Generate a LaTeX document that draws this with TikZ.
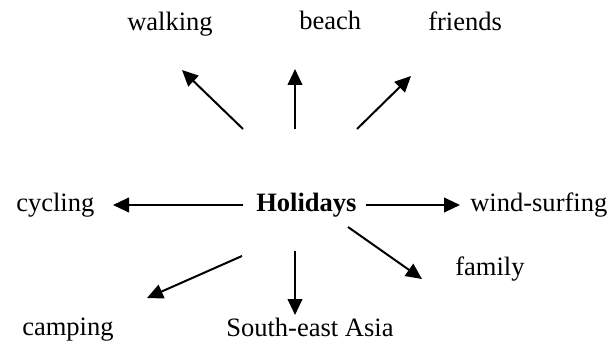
\documentclass[tikz,border=0pt]{standalone}
\usepackage{fontspec}
\setmainfont{Liberation Serif}
\usetikzlibrary{arrows.meta}
\begin{document}
\begin{tikzpicture}[x=0.75pt,y=-0.75pt,
  lbl/.style={anchor=base west,inner sep=0pt,font=\fontsize{19.9}{24}\selectfont},
  link/.style={line width=1.5pt,-{Triangle[length=12pt,width=11pt]}}]
\useasboundingbox (0,0) rectangle (613,345);
% labels
\node[lbl,font=\fontsize{19.9}{24}\selectfont\bfseries] (hol) at (256,212) {Holidays};
\node[lbl] (walk) at (127,31) {walking};
\node[lbl] (beach) at (299,30) {beach};
\node[lbl] (friends) at (428,31) {friends};
\node[lbl] (cyc) at (16,212) {cycling};
\node[lbl] (wind) at (470,212) {wind-surfing};
\node[lbl] (fam) at (455,275) {family};
\node[lbl] (camp) at (22,335) {camping};
\node[lbl] (sea) at (226,336) {South-east Asia};
% arrow end points
\coordinate (a1) at (243,129); \coordinate (b1) at (182,70);
\coordinate (a2) at (295,129); \coordinate (b2) at (295,69);
\coordinate (a3) at (357,129); \coordinate (b3) at (411,76);
\coordinate (a4) at (243,205); \coordinate (b4) at (113,205);
\coordinate (a5) at (366,205); \coordinate (b5) at (460,205);
\coordinate (a6) at (242,256); \coordinate (b6) at (147,298);
\coordinate (a7) at (295,251); \coordinate (b7) at (295,315);
\coordinate (a8) at (348,227); \coordinate (b8) at (422,279);
% arrows
\foreach \i in {1,...,8} \draw[link] (a\i) -- (b\i);
\end{tikzpicture}
\end{document}
